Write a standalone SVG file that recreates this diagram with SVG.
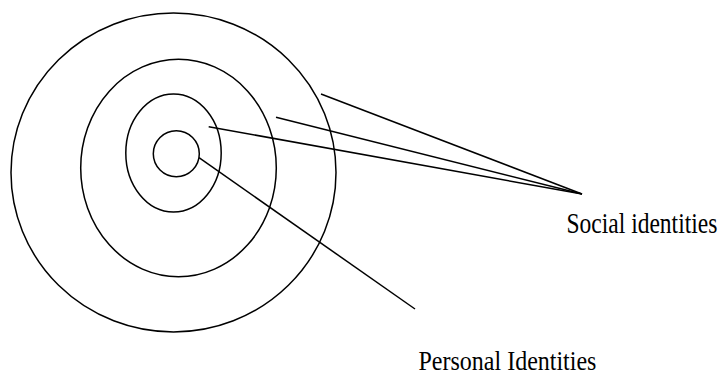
<svg xmlns="http://www.w3.org/2000/svg" width="722" height="376" viewBox="0 0 722 376">
<style>
.s{fill:none;stroke:#000;stroke-width:1.5}
.t{font-family:"Liberation Serif",serif;font-size:24px;fill:#000}
</style>
<rect width="722" height="376" fill="#fff"/>
<g id="outer"><ellipse class="s" cx="173.5" cy="172.5" rx="162.5" ry="159.5"/></g>
<g id="ring2"><ellipse class="s" cx="178.5" cy="168" rx="97.8" ry="108.7"/></g>
<g id="ring3"><ellipse class="s" cx="173.5" cy="153" rx="47.7" ry="59"/></g>
<g id="core"><circle class="s" cx="176.3" cy="153.7" r="23"/></g>
<g id="connectors">
<line class="s" x1="321" y1="94" x2="582" y2="194"/>
<line class="s" x1="276" y1="117.3" x2="582" y2="194"/>
<line class="s" x1="208.7" y1="126.7" x2="582" y2="194"/>
<line class="s" x1="199" y1="157.7" x2="415" y2="309"/>
</g>
<g id="label-social"><text class="t" transform="translate(566.5,232.5) scale(0.98,1.2)">Social identities</text></g>
<g id="label-personal"><text class="t" transform="translate(418.5,369.5) scale(1,1.15)">Personal Identities</text></g>
</svg>
